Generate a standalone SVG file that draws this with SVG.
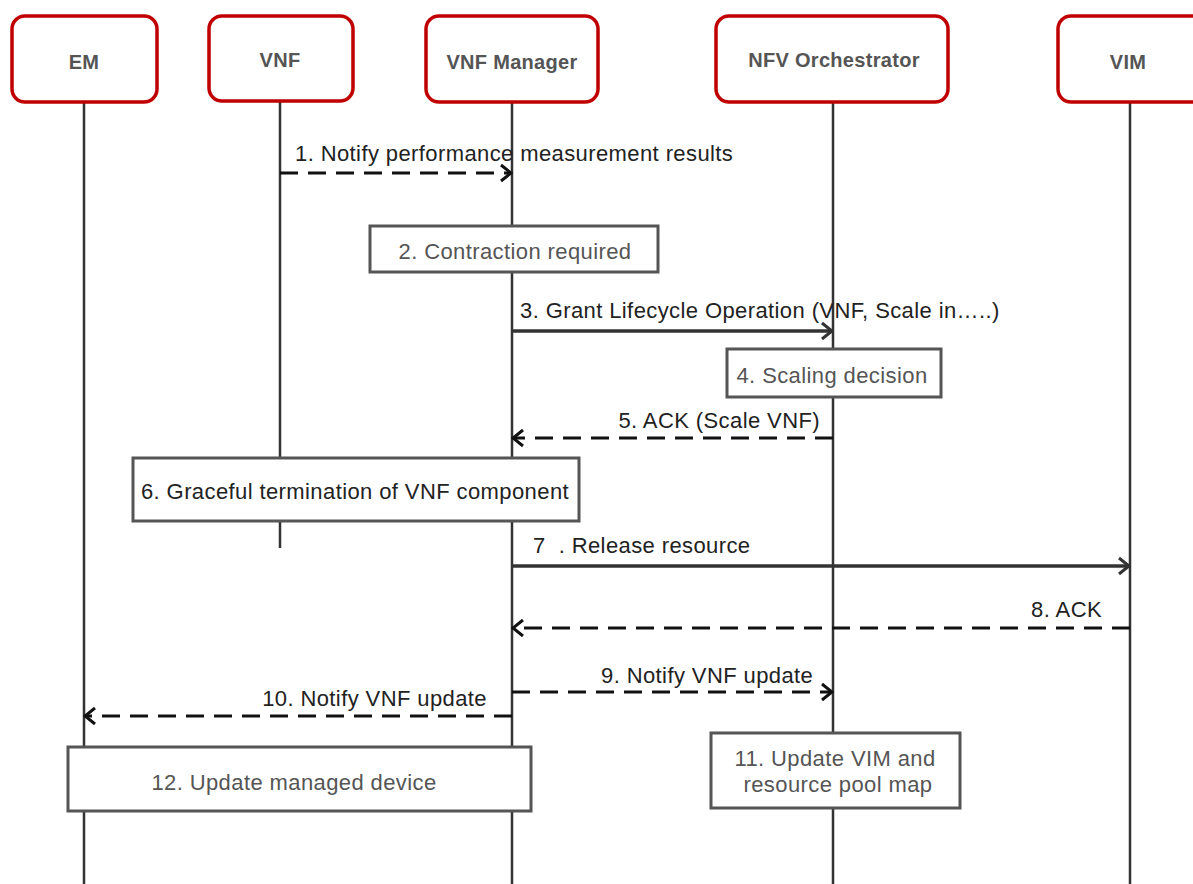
<svg xmlns="http://www.w3.org/2000/svg" width="1193" height="884" viewBox="0 0 1193 884">
<defs>
<style>
.hdr{fill:#fff;stroke:#c00000;stroke-width:3.5}
.htxt{font-family:"Liberation Sans",Arial,sans-serif;font-size:20px;font-weight:bold;fill:#555;text-anchor:middle;letter-spacing:0.3px}
.life{stroke:#333;stroke-width:2.5;fill:none}
.act{fill:#fff;stroke:#555;stroke-width:3}
.atxt{font-family:"Liberation Sans",Arial,sans-serif;font-size:22px;fill:#555;text-anchor:middle;letter-spacing:0.4px}
.mtxt{font-family:"Liberation Sans",Arial,sans-serif;font-size:22px;fill:#222;letter-spacing:0.4px}
.dash{stroke:#111;stroke-width:3;stroke-dasharray:18 10;fill:none}
.solid{stroke:#333;stroke-width:3.5;fill:none}
</style>
<marker id="ah" viewBox="0 0 14 20" refX="12" refY="10" markerWidth="14" markerHeight="20" markerUnits="userSpaceOnUse" orient="auto">
<path d="M2,2 L12,10 L2,18" fill="none" stroke="#111" stroke-width="3"/>
</marker>
<marker id="ahs" viewBox="0 0 14 20" refX="12" refY="10" markerWidth="14" markerHeight="20" markerUnits="userSpaceOnUse" orient="auto">
<path d="M2,2 L12,10 L2,18" fill="none" stroke="#333" stroke-width="3"/>
</marker>
</defs>
<rect width="1193" height="884" fill="#fff"/>

<g id="lifelines">
<line class="life" x1="84" y1="102" x2="84" y2="884"/>
<line class="life" x1="280" y1="102" x2="280" y2="548"/>
<line class="life" x1="512" y1="102" x2="512" y2="884"/>
<line class="life" x1="833" y1="102" x2="833" y2="884"/>
<line class="life" x1="1130" y1="102" x2="1130" y2="884"/>
</g>

<g id="em"><rect class="hdr" x="12" y="16" width="145" height="86" rx="13"/><text class="htxt" x="84" y="69">EM</text></g>
<g id="vnf"><rect class="hdr" x="209" y="16" width="144" height="85" rx="13"/><text class="htxt" x="280" y="67">VNF</text></g>
<g id="vnfm"><rect class="hdr" x="426" y="16" width="172" height="86" rx="13"/><text class="htxt" x="512" y="69">VNF Manager</text></g>
<g id="nfvo"><rect class="hdr" x="716" y="16" width="232" height="86" rx="13"/><text class="htxt" x="834" y="67">NFV Orchestrator</text></g>
<g id="vim"><rect class="hdr" x="1058" y="16" width="150" height="86" rx="13"/><text class="htxt" x="1128" y="69">VIM</text></g>

<g id="step2"><rect class="act" x="370" y="226" width="288" height="46"/><text class="atxt" x="515" y="259">2. Contraction required</text></g>
<g id="step4"><rect class="act" x="727" y="349" width="214" height="48"/><text class="atxt" x="832" y="383">4. Scaling decision</text></g>
<g id="step6"><rect class="act" x="133" y="458" width="446" height="63"/><text class="atxt" x="355" y="499" style="fill:#222">6. Graceful termination of VNF component</text></g>
<g id="step11"><rect class="act" x="711" y="733" width="249" height="75"/><text class="atxt" x="835" y="766">11. Update VIM and</text><text class="atxt" x="838" y="792">resource pool map</text></g>
<g id="step12"><rect class="act" x="68" y="747" width="463" height="64"/><text class="atxt" x="294" y="790">12. Update managed device</text></g>

<g id="connectors">
<line class="dash" x1="280" y1="173" x2="511" y2="173" marker-end="url(#ah)"/>
<text class="mtxt" x="295" y="161">1. Notify performance measurement results</text>

<line class="solid" x1="512" y1="331" x2="832" y2="331" marker-end="url(#ahs)"/>
<text class="mtxt" x="520" y="318">3. Grant Lifecycle Operation (VNF, Scale in…..)</text>

<line class="dash" x1="833" y1="438" x2="513" y2="438" marker-end="url(#ah)"/>
<text class="mtxt" x="820" y="428" text-anchor="end">5. ACK (Scale VNF)</text>

<line class="solid" x1="512" y1="566" x2="1129" y2="566" marker-end="url(#ahs)"/>
<text class="mtxt" x="533" y="553" xml:space="preserve">7  . Release resource</text>

<line class="dash" x1="1130" y1="628" x2="513" y2="628" marker-end="url(#ah)"/>
<text class="mtxt" x="1102" y="617" text-anchor="end">8. ACK</text>

<line class="dash" x1="512" y1="692" x2="832" y2="692" marker-end="url(#ah)"/>
<text class="mtxt" x="601" y="683">9. Notify VNF update</text>

<line class="dash" x1="512" y1="716" x2="85" y2="716" marker-end="url(#ah)"/>
<text class="mtxt" x="487" y="706" text-anchor="end">10. Notify VNF update</text>
</g>
</svg>
